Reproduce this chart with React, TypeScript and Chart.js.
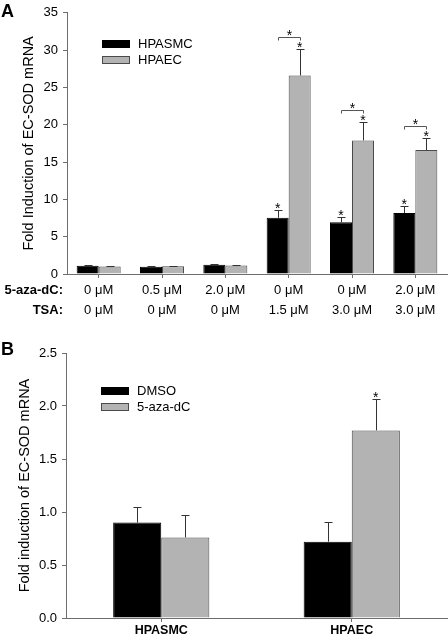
import React, { useEffect, useRef } from "react";
import { Chart, registerables } from "chart.js";
Chart.register(...registerables);

const FONT = "'Liberation Sans', Arial, sans-serif";

// ---------- Panel A data ----------
const azaLabelsA = ["0 μM", "0.5 μM", "2.0 μM", "0 μM", "0 μM", "2.0 μM"];
const tsaLabelsA = ["0 μM", "0 μM", "0 μM", "1.5 μM", "3.0 μM", "3.0 μM"];
const hpasmcA = [1.1, 0.96, 1.23, 7.54, 6.93, 8.16];
const hpasmcErrA = [0.05, 0.06, 0.07, 1.1, 0.75, 1.01];
const hpaecA = [1.0, 1.05, 1.14, 26.6, 17.9, 16.6];
const hpaecErrA = [0.04, 0.04, 0.05, 3.5, 2.5, 1.6];
const hpasmcSigA = [false, false, false, true, true, true];
const hpaecSigA = [false, false, false, true, true, true];
const pairSigA = [false, false, false, true, true, true];
const yMaxA = 35;
const yStepA = 5;

// ---------- Panel B data ----------
const groupsB = ["HPASMC", "HPAEC"];
const dmsoB = [0.9, 0.72];
const dmsoErrB = [0.15, 0.185];
const azaB = [0.76, 1.77];
const azaErrB = [0.21, 0.3];
const dmsoSigB = [false, false];
const azaSigB = [false, true];
const pairSigB = [false, false];
const yMaxB = 2.5;
const yStepB = 0.5;

const BLACK = "#000000";
const GRAY = "#b3b3b3";
const GRAY_BORDER = "#4a4a4a";
const AXIS = "#6e6e6e";

function drawStar(ctx: CanvasRenderingContext2D, x: number, cy: number) {
  ctx.save();
  ctx.fillStyle = "#000";
  ctx.font = `14px ${FONT}`;
  ctx.textAlign = "center";
  ctx.textBaseline = "alphabetic";
  ctx.fillText("*", x, cy + 8);
  ctx.restore();
}

const annotPlugin = {
  id: "annot",
  afterDatasetsDraw(chart: any, _args: any, opts: any) {
    const ctx: CanvasRenderingContext2D = chart.ctx;
    const ys = chart.scales.y;
    ctx.save();
    const tops: number[][] = [];
    chart.data.datasets.forEach((ds: any, i: number) => {
      const meta = chart.getDatasetMeta(i);
      tops[i] = [];
      meta.data.forEach((bar: any, j: number) => {
        const v = ds.data[j];
        const e = ds.errors[j];
        const top = Math.round(ys.getPixelForValue(v + e)) + 0.5;
        tops[i][j] = top;
        const x = Math.round(bar.x) + 0.5;
        ctx.strokeStyle = "#333";
        ctx.lineWidth = 1;
        ctx.beginPath();
        ctx.moveTo(x, bar.y);
        ctx.lineTo(x, top);
        ctx.moveTo(x - 4, top);
        ctx.lineTo(x + 4, top);
        ctx.stroke();
        if (ds.sig[j]) drawStar(ctx, bar.x, top - 6);
      });
    });
    const pairs: boolean[] = opts.pairs || [];
    const m0 = chart.getDatasetMeta(0);
    const m1 = chart.getDatasetMeta(1);
    pairs.forEach((p, j) => {
      if (!p) return;
      const x1 = Math.round(m0.data[j].x) + 0.5;
      const x2 = Math.round(m1.data[j].x) + 0.5;
      const yb = Math.round(Math.min(tops[0][j], tops[1][j]) - 13) + 0.5;
      ctx.strokeStyle = "#555";
      ctx.lineWidth = 1;
      ctx.beginPath();
      ctx.moveTo(x1, yb + 3);
      ctx.lineTo(x1, yb);
      ctx.lineTo(x2, yb);
      ctx.lineTo(x2, yb + 3);
      ctx.stroke();
      drawStar(ctx, (x1 + x2) / 2, yb - 6);
    });
    ctx.restore();
  },
  afterDraw(chart: any, _args: any, opts: any) {
    const ctx: CanvasRenderingContext2D = chart.ctx;
    ctx.save();
    // panel letter
    ctx.fillStyle = "#000";
    ctx.font = `bold 18px ${FONT}`;
    ctx.textAlign = "left";
    ctx.textBaseline = "alphabetic";
    ctx.fillText(opts.letter, 1, opts.letterY);
    // legend
    const lg = opts.legend;
    chart.data.datasets.forEach((ds: any, i: number) => {
      const y = lg.y + i * lg.dy;
      ctx.fillStyle = ds.backgroundColor;
      ctx.fillRect(lg.x, y, 28, 8);
      ctx.strokeStyle = ds.borderColor;
      ctx.lineWidth = 1;
      ctx.strokeRect(lg.x + 0.5, y + 0.5, 27, 7);
      ctx.fillStyle = "#000";
      ctx.font = `13px ${FONT}`;
      ctx.textBaseline = "middle";
      ctx.fillText(ds.label, lg.x + 36, y + 4.5);
    });
    // row labels
    if (opts.rows) {
      ctx.font = `bold 13px ${FONT}`;
      ctx.textAlign = "right";
      ctx.textBaseline = "middle";
      ctx.fillStyle = "#000";
      opts.rows.forEach((r: any) => ctx.fillText(r.text, 63, r.y));
    }
    ctx.restore();
  },
};

function useChart(ref: React.RefObject<HTMLCanvasElement>, build: () => any) {
  useEffect(() => {
    if (!ref.current) return;
    const chart = new Chart(ref.current, build());
    return () => chart.destroy();
  }, []);
}

function makeConfig(p: {
  labels: any[];
  ds: any[];
  yMax: number;
  yStep: number;
  yFmt: (v: number) => string;
  yWidth: number;
  xHeight: number;
  pad: any;
  catPct: number;
  xFont: any;
  xPad: number;
  title: string;
  titlePad: number;
  plugOpts: any;
}) {
  return {
    type: "bar",
    data: {
      labels: p.labels,
      datasets: p.ds,
    },
    plugins: [annotPlugin],
    options: {
      responsive: false,
      devicePixelRatio: 1,
      animation: false,
      layout: { padding: p.pad },
      plugins: {
        legend: { display: false },
        tooltip: { enabled: false },
        annot: p.plugOpts,
      },
      datasets: {
        bar: { categoryPercentage: p.catPct, barPercentage: 1 },
      },
      scales: {
        x: {
          grid: {
            display: true,
            drawOnChartArea: false,
            drawTicks: true,
            tickLength: 4,
            offset: false,
            color: AXIS,
          },
          border: { display: true, color: AXIS, width: 1 },
          ticks: {
            color: "#000",
            font: p.xFont,
            padding: p.xPad,
            maxRotation: 0,
            autoSkip: false,
          },
          afterFit: (s: any) => {
            s.height = p.xHeight;
          },
        },
        y: {
          min: 0,
          max: p.yMax,
          grid: {
            display: true,
            drawOnChartArea: false,
            drawTicks: true,
            tickLength: 4,
            color: AXIS,
          },
          border: { display: true, color: AXIS, width: 1 },
          ticks: {
            stepSize: p.yStep,
            color: "#000",
            padding: 5,
            font: { family: FONT, size: 13 },
            callback: (v: any) => p.yFmt(Number(v)),
          },
          title: {
            display: true,
            text: p.title,
            color: "#000",
            font: { family: FONT, size: 14.5 },
            padding: { top: p.titlePad, bottom: 0 },
          },
          afterFit: (s: any) => {
            s.width = p.yWidth;
          },
        },
      },
    },
  };
}

function barDs(label: string, data: number[], errors: number[], sig: boolean[], black: boolean) {
  return {
    label,
    data,
    errors,
    sig,
    backgroundColor: black ? BLACK : GRAY,
    borderColor: black ? BLACK : GRAY_BORDER,
    borderWidth: 1,
    borderSkipped: "bottom",
  };
}

function PanelA() {
  const ref = useRef<HTMLCanvasElement>(null);
  useChart(ref, () =>
    makeConfig({
      labels: azaLabelsA.map((a, i) => [a, tsaLabelsA[i]]),
      ds: [
        barDs("HPASMC", hpasmcA, hpasmcErrA, hpasmcSigA, true),
        barDs("HPAEC", hpaecA, hpaecErrA, hpaecSigA, false),
      ],
      yMax: yMaxA,
      yStep: yStepA,
      yFmt: (v) => String(v),
      yWidth: 67,
      xHeight: 46,
      pad: { top: 8, right: 1, left: 0, bottom: 0 },
      catPct: 0.695,
      xFont: { family: FONT, size: 13, lineHeight: 20 / 13 },
      xPad: 2,
      title: "Fold Induction of EC-SOD mRNA",
      titlePad: 20,
      plugOpts: {
        letter: "A",
        letterY: 17,
        pairs: pairSigA,
        legend: { x: 102, y: 40, dy: 16 },
        rows: [
          { text: "5-aza-dC:", y: 290 },
          { text: "TSA:", y: 310 },
        ],
      },
    })
  );
  return (
    <canvas
      ref={ref}
      width={448}
      height={320}
      style={{ position: "absolute", left: 0, top: 0, width: 448, height: 320 }}
    />
  );
}

function PanelB() {
  const ref = useRef<HTMLCanvasElement>(null);
  useChart(ref, () =>
    makeConfig({
      labels: groupsB,
      ds: [
        barDs("DMSO", dmsoB, dmsoErrB, dmsoSigB, true),
        barDs("5-aza-dC", azaB, azaErrB, azaSigB, false),
      ],
      yMax: yMaxB,
      yStep: yStepB,
      yFmt: (v) => v.toFixed(1),
      yWidth: 66,
      xHeight: 20,
      pad: { top: 33, right: 1, left: 0, bottom: 0 },
      catPct: 0.505,
      xFont: { family: FONT, size: 12.5, weight: "bold" },
      xPad: 1,
      title: "Fold induction of EC-SOD mRNA",
      titlePad: 16,
      plugOpts: {
        letter: "B",
        letterY: 35,
        pairs: pairSigB,
        legend: { x: 101, y: 67, dy: 16 },
      },
    })
  );
  return (
    <canvas
      ref={ref}
      width={448}
      height={318}
      style={{ position: "absolute", left: 0, top: 320, width: 448, height: 318 }}
    />
  );
}

export default function App() {
  return (
    <div
      style={{
        position: "absolute",
        left: 0,
        top: 0,
        width: 448,
        height: 638,
        background: "#fff",
        overflow: "hidden",
      }}
    >
      <PanelA />
      <PanelB />
    </div>
  );
}
